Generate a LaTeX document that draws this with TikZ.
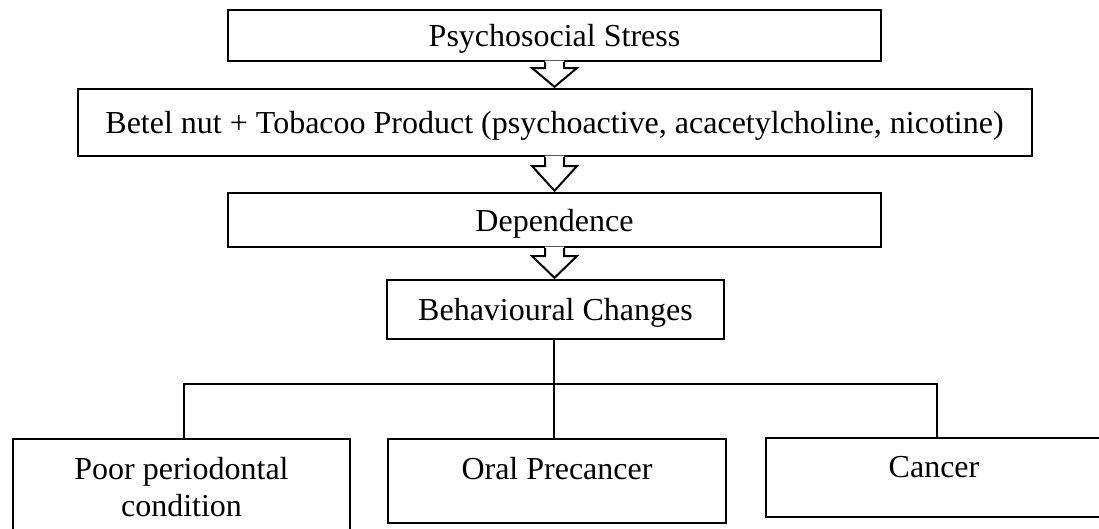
\documentclass[tikz,border=0pt]{standalone}
\usepackage{fontspec}
\setmainfont{Liberation Serif}
\usetikzlibrary{calc}
\tikzset{
  boxnode/.style={draw, line width=2pt, inner sep=0pt, fill=white},
  txt/.style={inner sep=0pt, align=center, font=\fontsize{32}{37}\selectfont},
  conn/.style={line width=2pt},
  arrline/.style={line width=2pt, line join=miter},
}
\newcommand{\hollowarrow}[3]{%
  \path (#1.south) coordinate (ta) (#2.north) coordinate (tb);
  \fill[white] ($(ta)+(-9.5,-1.4)$) -- ($(ta)+(-9.5,#3)$) -- ($(ta)+(-22.5,#3)$)
     -- ($(ta|-tb)+(0,-1.2)$) -- ($(ta)+(22.5,#3)$) -- ($(ta)+(9.5,#3)$)
     -- ($(ta)+(9.5,-1.4)$) -- cycle;
  \draw[arrline] ($(ta)+(-9.5,0)$) -- ($(ta)+(-9.5,#3)$) -- ($(ta)+(-22.5,#3)$)
     -- ($(ta|-tb)+(0,-1.2)$) -- ($(ta)+(22.5,#3)$) -- ($(ta)+(9.5,#3)$)
     -- ($(ta)+(9.5,0)$);
}
\begin{document}
\begin{tikzpicture}[x=1pt,y=-1pt]
\clip (0,0) rectangle (1099,528);
\fill[white] (0,0) rectangle (1099,528);
% boxes
\node[boxnode, minimum width=653pt, minimum height=51pt] (b1) at (554.5,35.5) {};
\node[boxnode, minimum width=954pt, minimum height=67pt] (b2) at (554.5,122.5) {};
\node[boxnode, minimum width=653pt, minimum height=54pt] (b3) at (554.5,220) {};
\node[boxnode, minimum width=337pt, minimum height=59pt] (b4) at (555.5,309.5) {};
\node[boxnode, minimum width=337pt, minimum height=110pt, anchor=north west] (b5) at (12,438) {};
\node[boxnode, minimum width=338pt, minimum height=84pt, anchor=north west] (b6) at (387,438) {};
\node[boxnode, minimum width=336pt, minimum height=79pt, anchor=north west] (b7) at (765,437) {};
% texts
\node[txt] (t1) at ($(b1.center)+(0,3.5)$) {Psychosocial Stress};
\node[txt] (t2) at ($(b2.center)+(0,3)$) {Betel nut + Tobacoo Product (psychoactive, acacetylcholine, nicotine)};
\node[txt] (t3) at ($(b3.center)+(0,4)$) {Dependence};
\node[txt] (t4) at ($(b4.center)+(0,3.5)$) {Behavioural Changes};
\node[txt, anchor=north] (t5) at ($(b5.north)+(0,19)$) {Poor periodontal\\condition};
\node[txt, anchor=north] (t6) at ($(b6.north)+(0,19)$) {Oral Precancer};
\node[txt, anchor=north] (t7) at ($(b7.north)+(0,19)$) {Cancer};
% hollow arrows
\hollowarrow{b1}{b2}{6}
\hollowarrow{b2}{b3}{9}
\hollowarrow{b3}{b4}{8}
% tree connectors
\coordinate (hl) at (184,384);
\coordinate (hr) at (937,384);
\coordinate (hm) at (554,384);
\draw[conn] (b4.south -| hm) -- (hm);
\draw[conn] (hl|-b5.north) -- (hl) -- (hr) -- (hr|-b7.north);
\draw[conn] (hm) -- (hm|-b6.north);
\end{tikzpicture}
\end{document}
